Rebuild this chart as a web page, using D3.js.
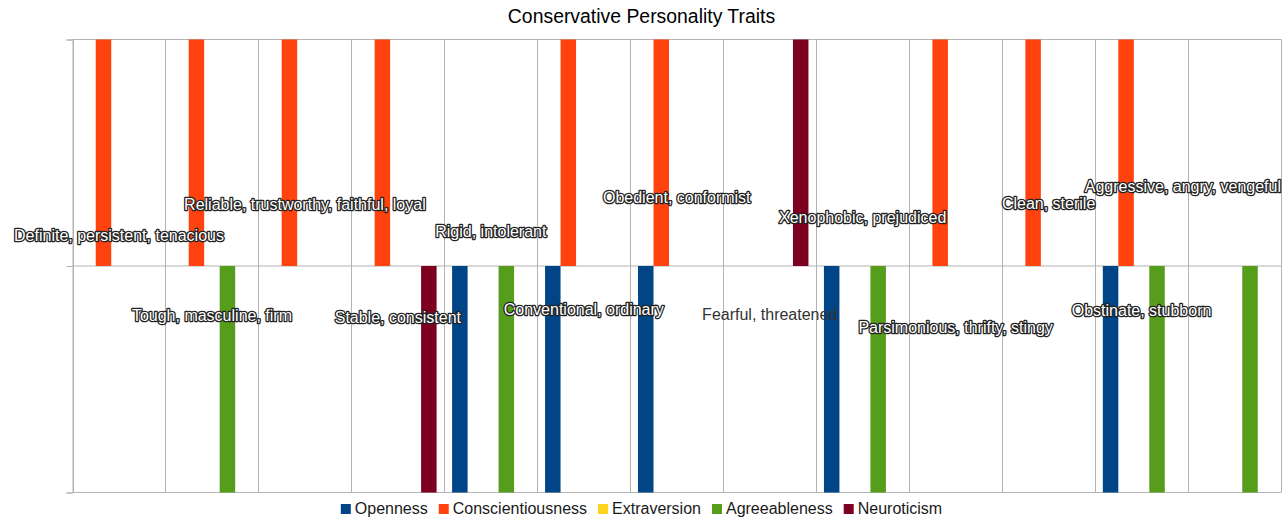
<!DOCTYPE html>
<html>
<head>
<meta charset="utf-8">
<script src="https://cdn.jsdelivr.net/npm/d3@7"></script>
<style>
  body { margin: 0; background: #fff; }
  svg { display: block; font-family: "Liberation Sans", Arial, sans-serif; }
</style>
</head>
<body>
<div id="chart"></div>
<script>
// categories are just slots, the trait words sit in the label arrays
const categories = d3.range(13).map(i => "c" + i);

const seriesNames = ["Openness", "Conscientiousness", "Extraversion", "Agreeableness", "Neuroticism"];

const openness          = [0, 0, 0, 0, -1, -1, -1, 0, -1, 0, 0, -1, 0];
const conscientiousness = [1, 1, 1, 1, 0, 1, 1, 0, 0, 1, 1, 1, 0];
const extraversion      = [0, 0, 0, 0, 0, 0, 0, 0, 0, 0, 0, 0, 0];
const agreeableness     = [0, -1, 0, 0, -1, 0, 0, 0, -1, 0, 0, -1, -1];
const neuroticism       = [0, 0, 0, -1, 0, 0, 0, 1, 0, 0, 0, 0, 0];

const labelTexts = [
  "Definite, persistent, tenacious",
  "Tough, masculine, firm",
  "Reliable, trustworthy, faithful, loyal",
  "Stable, consistent",
  "Rigid, intolerant",
  "Conventional, ordinary",
  "Obedient, conformist",
  "Fearful, threatened",
  "Xenophobic, prejudiced",
  "Parsimonious, thrifty, stingy",
  "Clean, sterile",
  "Obstinate, stubborn",
  "Aggressive, angry, vengeful"
];
const labelValues = [0.137, -0.216, 0.27, -0.225, 0.152, -0.19, 0.305, -0.212, 0.214, -0.27, 0.278, -0.196, 0.351];
const plainLabels = ["Fearful, threatened"];

const yTicks = [-1, 0, 1];

const seriesValues = [openness, conscientiousness, extraversion, agreeableness, neuroticism];

const color = d3.scaleOrdinal()
    .domain(seriesNames)
    .range(["#004586", "#ff420e", "#ffd320", "#579d1c", "#7e0021"]);

const W = 1283, H = 522;
const plot = {left: 72.5, right: 1281, top: 39.5, bottom: 492.5};

const svg = d3.select("#chart").append("svg")
    .attr("width", W)
    .attr("height", H);

const x = d3.scaleBand().domain(categories).range([plot.left, plot.right]).padding(0);
const xs = d3.scaleBand().domain(seriesNames).range([0, x.bandwidth()])
    .paddingInner(0).paddingOuter(0.5);
const y = d3.scaleLinear().domain([-1, 1]).range([plot.bottom, plot.top]);

// title
svg.append("text")
    .attr("x", W / 2)
    .attr("y", 23)
    .attr("text-anchor", "middle")
    .attr("font-size", 19.4)
    .attr("fill", "#000")
    .text("Conservative Personality Traits");

// vertical grid at category borders
const borders = categories.map(c => x(c)).concat([plot.right]);
svg.append("g").selectAll("line")
  .data(borders)
  .join("line")
    .attr("x1", d => Math.round(d) + 0.5)
    .attr("x2", d => Math.round(d) + 0.5)
    .attr("y1", plot.top)
    .attr("y2", plot.bottom)
    .attr("stroke", "#b3b3b3");

// horizontal grid + left ticks
const yAxis = svg.append("g")
    .attr("transform", `translate(${plot.left},0)`)
    .call(d3.axisLeft(y).tickValues(yTicks).tickSize(6).tickFormat(""));
yAxis.select(".domain").attr("stroke", "#b3b3b3");
yAxis.selectAll(".tick line").attr("stroke", "#b3b3b3");

svg.append("g").selectAll("line")
  .data(yTicks)
  .join("line")
    .attr("x1", plot.left)
    .attr("x2", plot.right)
    .attr("y1", d => y(d))
    .attr("y2", d => y(d))
    .attr("stroke", "#b3b3b3");

// bars
const bars = [];
seriesValues.forEach((vals, s) => {
  vals.forEach((v, i) => {
    if (v !== 0) bars.push({series: seriesNames[s], cat: categories[i], value: v});
  });
});

svg.append("g").selectAll("rect")
  .data(bars)
  .join("rect")
    .attr("x", d => x(d.cat) + xs(d.series))
    .attr("width", xs.bandwidth())
    .attr("y", d => Math.min(y(d.value), y(0)))
    .attr("height", d => Math.abs(y(d.value) - y(0)))
    .attr("fill", d => color(d.series));

// trait labels
const labels = labelTexts.map((t, i) => ({text: t, cat: categories[i], value: labelValues[i]}));

svg.append("g").selectAll("text")
  .data(labels)
  .join("text")
    .attr("x", d => x(d.cat) + x.bandwidth() / 2)
    .attr("y", d => y(d.value))
    .attr("dy", "0.35em")
    .attr("text-anchor", "middle")
    .attr("font-size", 16)
    .text(d => d.text)
    .each(function(d) {
      const el = d3.select(this);
      if (plainLabels.includes(d.text)) {
        el.attr("fill", "#333");
      } else {
        el.attr("fill", "#fff")
          .attr("stroke", "#222")
          .attr("stroke-width", 2.6)
          .attr("stroke-linejoin", "round")
          .style("paint-order", "stroke");
      }
      // keep inside the plot
      const w = this.getComputedTextLength();
      const cx = +el.attr("x");
      if (cx + w / 2 > plot.right) el.attr("x", plot.right - w / 2);
    });

// legend
const legend = svg.append("g");
let lx = 0;
seriesNames.forEach(name => {
  const item = legend.append("g").attr("transform", `translate(${lx},0)`);
  item.append("rect")
      .attr("x", 0).attr("y", -10)
      .attr("width", 10).attr("height", 10)
      .attr("fill", color(name));
  const t = item.append("text")
      .attr("x", 14).attr("y", 0)
      .attr("font-size", 16)
      .attr("fill", "#1a1a1a")
      .text(name);
  lx += 14 + t.node().getComputedTextLength() + 11;
});
legend.attr("transform", `translate(${(W - (lx - 11)) / 2},514)`);
</script>
</body>
</html>
